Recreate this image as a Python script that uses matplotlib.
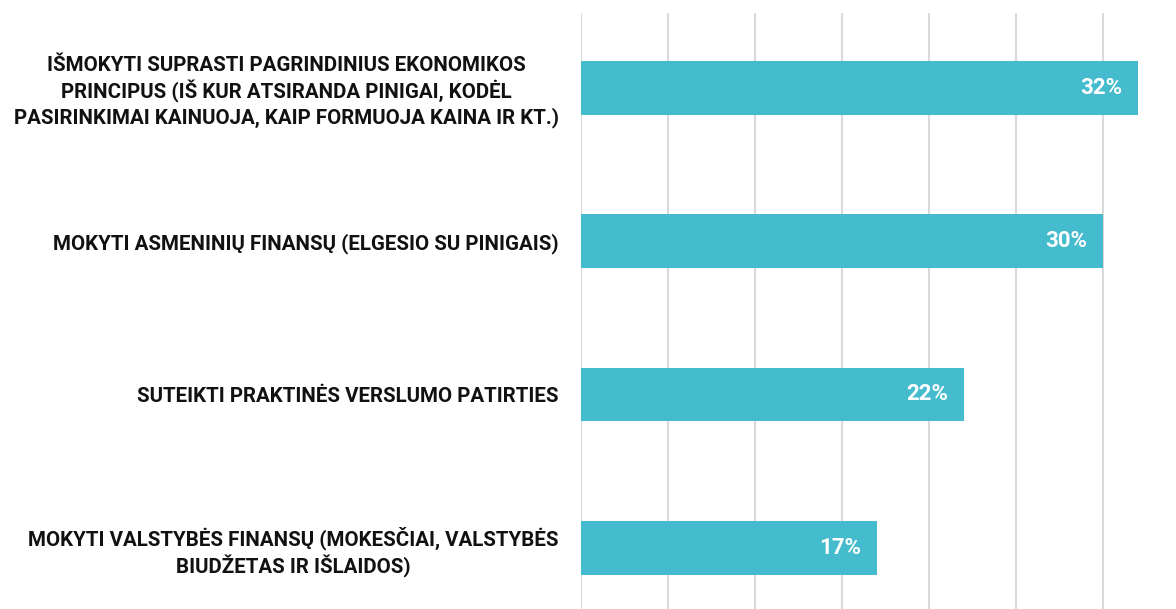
import matplotlib

matplotlib.use("Agg")
import matplotlib.pyplot as plt
from matplotlib import font_manager

categories = [
    "IŠMOKYTI SUPRASTI PAGRINDINIUS EKONOMIKOS\nPRINCIPUS (IŠ KUR ATSIRANDA PINIGAI, KODĖL\nPASIRINKIMAI KAINUOJA, KAIP FORMUOJA KAINA IR KT.)",
    "MOKYTI ASMENINIŲ FINANSŲ (ELGESIO SU PINIGAIS)",
    "SUTEIKTI PRAKTINĖS VERSLUMO PATIRTIES",
    "MOKYTI VALSTYBĖS FINANSŲ (MOKESČIAI, VALSTYBĖS\nBIUDŽETAS IR IŠLAIDOS)",
]
values = [32, 30, 22, 17]

_available = {f.name for f in font_manager.fontManager.ttflist}
family = ["Liberation Sans Narrow", "DejaVu Sans"] if "Liberation Sans Narrow" in _available else ["Roboto", "DejaVu Sans"]
plt.rcParams["font.family"] = family

fig = plt.figure(figsize=(11.76, 6.09), dpi=100)
ax = fig.add_axes([0.494, 0.0, 0.506, 0.979])

ypos = list(range(len(categories)))
bars = ax.barh(ypos, values, height=0.35, color="#45BBCE", zorder=3)
ax.set_xlim(0, 34.2)
ax.set_ylim(3.40, -0.49)
ax.set_xticks(range(0, 35, 5))
ax.grid(True, axis="x", color="#D9D9D9", linewidth=1.5, zorder=0)
ax.tick_params(axis="both", length=0, labelbottom=False)
ax.set_yticks(ypos)
ax.set_yticklabels(categories, fontsize=14.8, fontweight="bold", color="#111111",
                   multialignment="center", linespacing=1.25)
ax.tick_params(axis="y", pad=16)
for s in ax.spines.values():
    s.set_visible(False)

for bar, v in zip(bars, values):
    ax.annotate(f"{v}%", xy=(bar.get_width(), bar.get_y() + bar.get_height() / 2),
                xytext=(-11, 0), textcoords="offset points", ha="right", va="center",
                color="white", fontsize=16, fontweight="bold", zorder=4)

fig.savefig("out.png", dpi=100)
